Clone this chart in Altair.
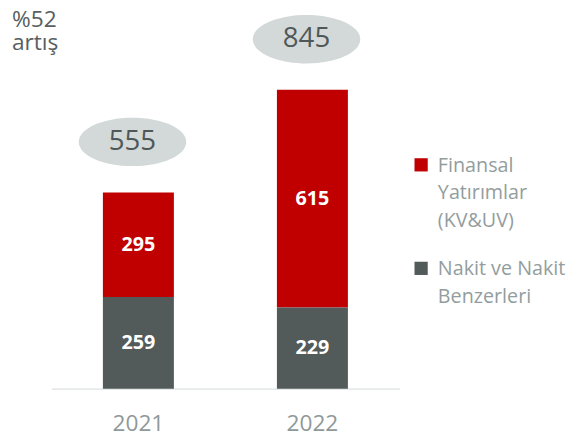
import altair as alt
import pandas as pd

years = ["2021", "2022"]
series_lines = [["Finansal", "Yatırımlar", "(KV&UV)"], ["Nakit ve Nakit", "Benzerleri"]]
series = [" ".join(s) for s in series_lines]
finansal = [295, 615]
nakit = [259, 229]
totals = [555, 845]
headline = ["%52", "artış"]

RED = "#c00000"
GRAY = "#525a5a"
ELLIPSE = "#d3d8d8"
FONT = "Open Sans"

rows = []
for i, y in enumerate(years):
    rows.append({"year": y, "series": series[0], "value": finansal[i]})
    rows.append({"year": y, "series": series[1], "value": nakit[i]})
df = pd.DataFrame(rows)
tdf = pd.DataFrame({"year": years, "total": totals})
hdf = pd.DataFrame({"text": ["\n".join(headline)]})

label_expr = ""
for name, lines in zip(series, series_lines):
    arr = "[" + ", ".join("'" + l + "'" for l in lines) + "]"
    label_expr += f"datum.label == '{name}' ? {arr} : "
label_expr += "datum.label"

x_enc = alt.X(
    "year:N",
    sort=years,
    scale=alt.Scale(paddingInner=0, paddingOuter=0),
    axis=alt.Axis(
        title=None, labelAngle=0, ticks=False, tickSize=0, labelPadding=17,
        labelFontSize=23, labelFont=FONT, labelColor="#8f9999",
        domainColor="#dde2e2", domainWidth=1.5,
    ),
)
y_scale = alt.Scale(domain=[0, 1050], nice=False, zero=True)

bars = alt.Chart(df).mark_bar(size=72).encode(
    x=x_enc,
    y=alt.Y("value:Q", stack="zero", scale=y_scale, axis=None),
    color=alt.Color(
        "series:N",
        scale=alt.Scale(domain=series, range=[RED, GRAY]),
        legend=alt.Legend(
            title=None, orient="none", legendX=365, legendY=140,
            symbolType="square", symbolSize=180, symbolStrokeWidth=0,
            labelFontSize=20, labelFont=FONT, labelColor="#939d9d",
            labelOffset=7, labelBaseline="alphabetic", labelLimit=300,
            labelExpr=label_expr, rowPadding=28, padding=0,
        ),
    ),
    order=alt.Order("series:N", sort="descending"),
)

seg_labels = alt.Chart(df).transform_stack(
    stack="value", groupby=["year"], as_=["v0", "v1"],
    sort=[alt.SortField("series", order="descending")],
).transform_calculate(mid="(datum.v0 + datum.v1) / 2").mark_text(
    font=FONT, fontSize=20, fontWeight="bold", color="white", baseline="middle"
).encode(
    x=alt.X("year:N", sort=years),
    y=alt.Y("mid:Q", scale=y_scale),
    text=alt.Text("value:Q"),
)

ell_path = "M -1 0 A 1 0.45 0 1 0 1 0 A 1 0.45 0 1 0 -1 0 Z"
ellipses = alt.Chart(tdf).mark_point(
    shape=ell_path, filled=True, size=109 * 109, color=ELLIPSE,
    opacity=1, strokeWidth=0, yOffset=-51, xOffset=-6,
).encode(x=alt.X("year:N", sort=years), y=alt.Y("total:Q", scale=y_scale))

tot_text = alt.Chart(tdf).mark_text(
    font=FONT, fontSize=28, color="#4f5858", baseline="middle",
    yOffset=-51, xOffset=-6,
).encode(
    x=alt.X("year:N", sort=years),
    y=alt.Y("total:Q", scale=y_scale),
    text=alt.Text("total:Q"),
)

head = alt.Chart(hdf).mark_text(
    font=FONT, fontSize=23, color="#57605f", align="left", baseline="top",
    lineBreak="\n", lineHeight=24,
).encode(x=alt.value(-40), y=alt.value(-8), text=alt.Text("text:N"))

chart = alt.layer(bars, seg_labels, ellipses, tot_text, head).properties(
    width=353, height=377,
    autosize=alt.AutoSizeParams(type="none"),
    padding={"left": 44, "top": 6, "right": 172, "bottom": 47},
).configure(
    style={"guide-label": {"lineHeight": 28, "dy": 7}},
).configure_view(stroke=None)

chart.save("out.html", embed_options={"renderer": "svg", "actions": False})
